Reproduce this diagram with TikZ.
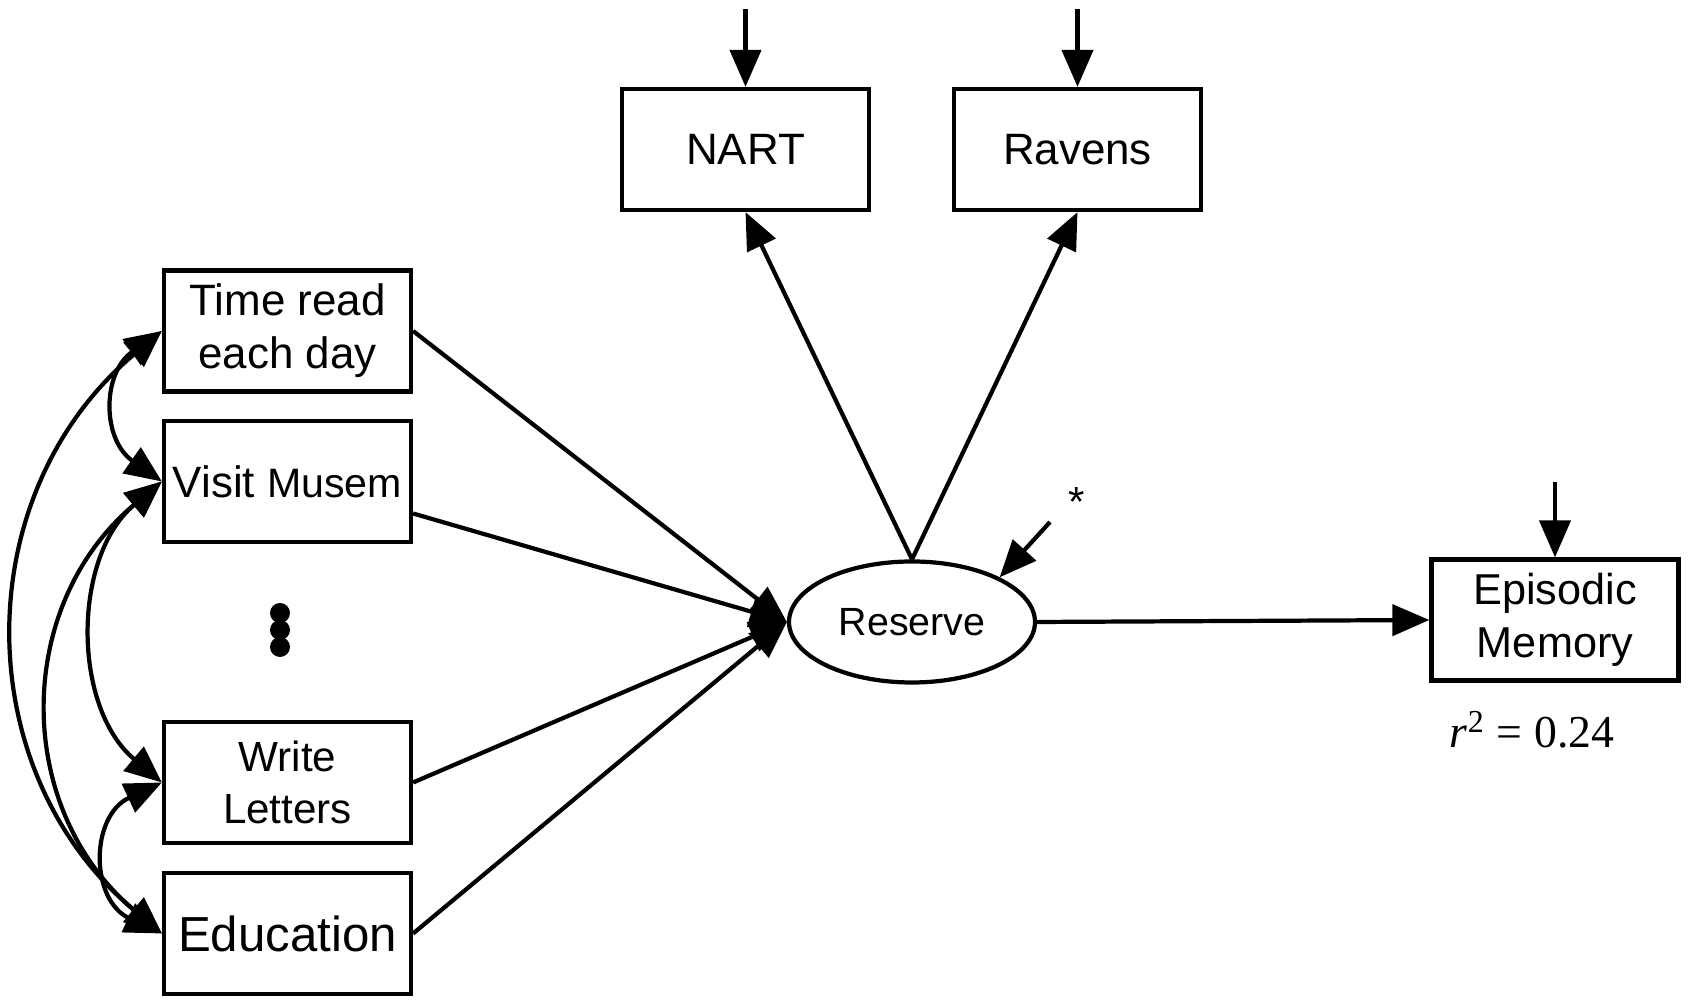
\documentclass[tikz,border=0pt]{standalone}
\usepackage{fontspec}
\setmainfont{Liberation Sans}
\newfontfamily\timesfont{Liberation Serif}
\usepackage{tikz}
\usetikzlibrary{arrows.meta,shapes.geometric}
\tikzstyle{SEM_style}=[
	-{Triangle[length=0.37cm,width=0.31cm]},line width=1.2pt,
	obs/.style={rectangle,fill=white,draw,line width=1.2pt,minimum width=2.47cm,minimum height=1.21cm,align=center,inner sep=0pt,font=\fontsize{12.5}{15}\selectfont},
	latent/.style={ellipse,fill=white,draw,line width=1.2pt,minimum width=2.46cm,minimum height=1.21cm,inner sep=0pt,font=\fontsize{11.2}{13}\selectfont},
	textlab/.style={rectangle,draw=none,inner sep=0pt},
	cov/.style={{Triangle[length=0.37cm,width=0.31cm]}-{Triangle[length=0.37cm,width=0.31cm]}}
]

\begin{document}
\begin{tikzpicture}[SEM_style]
			\useasboundingbox (0,0) rectangle (16.91,10.02);
			
			%indicators
			\node[obs] (time)  at (2.875,6.71)  {Time read\\each day};
			\node[obs] (visit) at (2.875,5.205) {Visit {\fontsize{11.7}{14}\selectfont Musem}};
			\node[textlab,minimum size=0.2cm] (dots) at (2.80,3.72) {};
			\node[obs,font=\fontsize{12}{15}\selectfont] (write) at (2.875,2.195) {Write\\Letters};
			\node[obs,font=\fontsize{14}{16}\selectfont]   (edu)   at (2.875,0.685) {Education};
			
			%latent
			\node[latent] (reserve) at (9.12,3.80) {Reserve};
			
			%outcomes
			\node[obs] (nart)   at (7.455,8.525)  {NART};
			\node[obs] (ravens) at (10.775,8.525) {Ravens};
			\node[obs,font=\fontsize{12.3}{15}\selectfont] (epi) at (15.55,3.82) {Episodic\\Memory};
			\node[textlab,font=\timesfont\fontsize{13}{14}\selectfont] (rsq) at (15.32,2.72) {\textit{r}\textsuperscript{2} = 0.24};
			
			%errors
			\coordinate (nart_e)   at (7.455,9.93);
			\coordinate (ravens_e) at (10.775,9.93);
			\coordinate (epi_e)    at (15.55,5.20);
			\coordinate (res_e)    at (10.50,4.80);
			\node[textlab,font=\fontsize{12}{14}\selectfont] (star) at (10.77,5.00) {*};
			
			\foreach \dy in {-0.17,0,0.17}
			\fill ([yshift=\dy cm]dots) circle (0.1);
			
			\path (time.east) edge [] (reserve.west)
			([yshift=-0.32cm]visit.east) edge [] (reserve.west)
			(write.east) edge [] (reserve.west)
			(edu.east) edge [] (reserve.west)
			
			(reserve.north) edge [] (nart.south)
			(reserve.north) edge [] (ravens.south)
			(reserve.east) edge [] (epi.west)
			
			(nart_e) edge [] (nart.north)
			(ravens_e) edge [] (ravens.north)
			(epi_e) edge [] (epi.north)
			(res_e) edge [] (reserve.27);
			
			%covariances
			\path[cov] (time.west) edge [bend right=55,looseness=1.25]  (visit.west)
			(visit.west) edge [bend right=50,looseness=1.0] (write.west)
			(write.west) edge [bend right=65,looseness=1.35] (edu.west)
			(visit.west) edge [bend right=50,looseness=1.1]  (edu.west)
			(time.west) edge [bend right=50,looseness=1.08]  (edu.west);
			
\end{tikzpicture}
\end{document}
